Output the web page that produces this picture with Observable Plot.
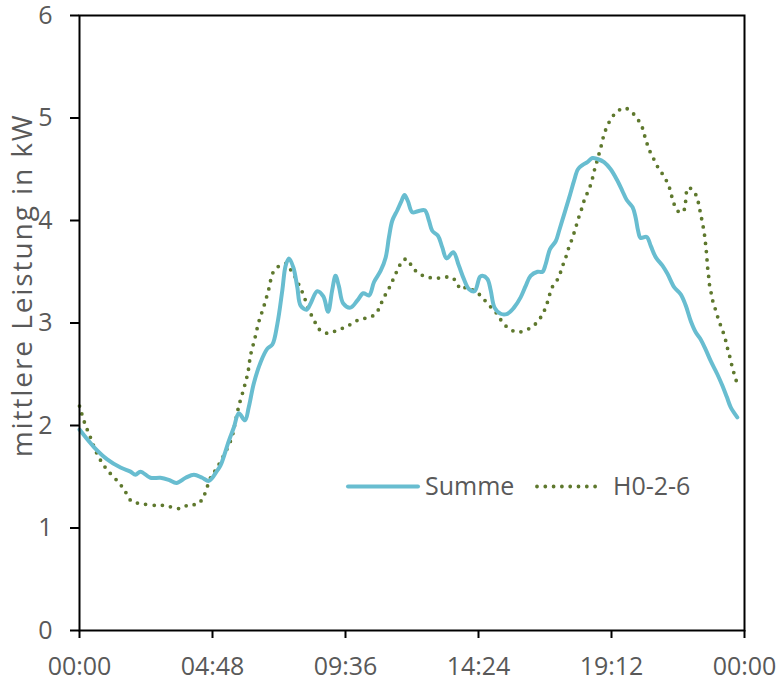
<!DOCTYPE html>
<html>
<head>
<meta charset="utf-8">
<script src="https://cdn.jsdelivr.net/npm/d3@7"></script>
<script src="https://cdn.jsdelivr.net/npm/@observablehq/plot@0.6"></script>
<style>
  body { margin: 0; background: #fff; }
  #wrap { position: relative; width: 780px; height: 681px; font-family: "Open Sans", sans-serif; }
  #legend { position: absolute; left: 0; top: 0; pointer-events: none; }
</style>
</head>
<body>
<div id="wrap"></div>
<script>
// ---- data (hours since midnight, kW) ----
const summeT = [
  0, 0.52, 1.0, 1.48, 1.84, 2.02, 2.2, 2.56, 2.92, 3.22,
  3.5, 3.83, 4.13, 4.43, 4.67, 4.97, 5.09, 5.39, 5.57, 5.75,
  5.97, 6.11, 6.29, 6.54, 6.78, 6.96, 7.14, 7.32, 7.44, 7.56,
  7.72, 7.86, 7.98, 8.20, 8.34, 8.58, 8.80, 8.97, 9.12, 9.24,
  9.36, 9.52, 9.78, 10.03, 10.24, 10.45, 10.63, 10.87, 11.05, 11.17,
  11.29, 11.47, 11.62, 11.73, 11.85, 12.01, 12.21, 12.46, 12.61, 12.73,
  12.94, 13.09, 13.25, 13.49, 13.69, 13.87, 14.06, 14.26, 14.45, 14.54,
  14.72, 14.84, 14.98, 15.20, 15.44, 15.68, 15.92, 16.10, 16.28, 16.53,
  16.71, 16.83, 16.98, 17.19, 17.31, 17.49, 17.67, 17.85, 17.99, 18.15,
  18.33, 18.51, 18.69, 18.93, 19.17, 19.41, 19.59, 19.75, 19.96, 20.07,
  20.16, 20.25, 20.47, 20.62, 20.80, 21.04, 21.22, 21.46, 21.70, 21.88,
  22.06, 22.24, 22.42, 22.60, 22.78, 23.02, 23.20, 23.36, 23.50, 23.74
];
const summeV = [
  1.96, 1.79, 1.67, 1.59, 1.55, 1.52, 1.55, 1.49, 1.49, 1.47,
  1.44, 1.49, 1.52, 1.49, 1.46, 1.56, 1.61, 1.85, 1.98, 2.12,
  2.05, 2.18, 2.41, 2.62, 2.75, 2.79, 2.99, 3.32, 3.56, 3.63,
  3.54, 3.35, 3.17, 3.13, 3.19, 3.31, 3.26, 3.11, 3.32, 3.46,
  3.36, 3.19, 3.15, 3.22, 3.29, 3.27, 3.40, 3.51, 3.64, 3.84,
  4.00, 4.10, 4.19, 4.25, 4.19, 4.08, 4.09, 4.10, 4.00, 3.90,
  3.85, 3.74, 3.63, 3.69, 3.56, 3.43, 3.33, 3.31, 3.45, 3.46,
  3.43, 3.32, 3.15, 3.09, 3.09, 3.15, 3.25, 3.36, 3.46, 3.50,
  3.50, 3.58, 3.72, 3.80, 3.90, 4.06, 4.22, 4.39, 4.50, 4.54,
  4.57, 4.61, 4.60, 4.57, 4.50, 4.39, 4.29, 4.20, 4.13, 4.03,
  3.90, 3.83, 3.84, 3.75, 3.64, 3.56, 3.48, 3.35, 3.28, 3.17,
  3.02, 2.91, 2.84, 2.74, 2.63, 2.50, 2.39, 2.28, 2.18, 2.08
];
const h0T = [
  0, 0.18, 0.40, 0.64, 0.96, 1.36, 1.60, 1.88, 2.18, 2.78,
  3.08, 3.38, 3.68, 3.95, 4.25, 4.45, 4.57, 4.73, 4.97, 5.48,
  5.62, 5.75, 5.93, 6.08, 6.17, 6.32, 6.47, 6.65, 6.83, 6.98,
  7.17, 7.47, 7.64, 7.80, 7.94, 8.06, 8.17, 8.28, 8.40, 8.56,
  8.72, 9.01, 9.30, 9.60, 9.87, 10.14, 10.42, 10.69, 10.84, 10.95,
  11.11, 11.25, 11.37, 11.51, 11.65, 11.85, 12.01, 12.23, 12.49, 12.79,
  13.09, 13.39, 13.61, 13.75, 13.99, 14.26, 14.51, 14.72, 14.94, 15.12,
  15.28, 15.54, 15.80, 16.10, 16.37, 16.58, 16.74, 16.86, 16.95, 17.04,
  17.22, 17.34, 17.44, 17.55, 17.64, 17.75, 17.85, 17.94, 18.03, 18.13,
  18.22, 18.33, 18.45, 18.54, 18.61, 18.69, 18.77, 18.85, 18.93, 19.03,
  19.20, 19.36, 19.65, 19.92, 20.11, 20.28, 20.37, 20.46, 20.56, 20.69,
  20.83, 21.00, 21.16, 21.29, 21.37, 21.46, 21.60, 21.78, 21.86, 21.96,
  22.12, 22.28, 22.36, 22.42, 22.48, 22.54, 22.58, 22.61, 22.64, 22.66,
  22.70, 22.72, 22.78, 22.84, 22.93, 23.02, 23.12, 23.23, 23.32, 23.39,
  23.47, 23.54, 23.62, 23.71
];
const h0V = [
  2.19, 2.03, 1.88, 1.72, 1.58, 1.46, 1.38, 1.26, 1.24, 1.22,
  1.22, 1.20, 1.19, 1.23, 1.23, 1.29, 1.37, 1.49, 1.59, 1.87,
  2.03, 2.19, 2.36, 2.52, 2.68, 2.84, 3.01, 3.16, 3.33, 3.49,
  3.55, 3.58, 3.51, 3.44, 3.36, 3.29, 3.21, 3.13, 3.06, 2.98,
  2.92, 2.90, 2.93, 2.96, 3.00, 3.04, 3.05, 3.09, 3.16, 3.23,
  3.31, 3.38, 3.46, 3.53, 3.61, 3.62, 3.54, 3.49, 3.45, 3.44,
  3.44, 3.45, 3.40, 3.33, 3.35, 3.31, 3.26, 3.19, 3.13, 3.07,
  3.00, 2.94, 2.91, 2.93, 2.97, 3.03, 3.10, 3.18, 3.26, 3.34,
  3.41, 3.48, 3.56, 3.64, 3.72, 3.80, 3.88, 3.96, 4.04, 4.12,
  4.20, 4.27, 4.35, 4.44, 4.52, 4.59, 4.67, 4.75, 4.84, 4.91,
  5.00, 5.05, 5.10, 5.06, 5.00, 4.93, 4.85, 4.77, 4.69, 4.62,
  4.54, 4.47, 4.40, 4.32, 4.24, 4.16, 4.09, 4.08, 4.16, 4.32,
  4.30, 4.23, 4.14, 4.06, 3.98, 3.89, 3.81, 3.73, 3.65, 3.56,
  3.48, 3.40, 3.32, 3.23, 3.15, 3.07, 2.99, 2.91, 2.83, 2.75,
  2.67, 2.59, 2.51, 2.43
];
const xTicks = [0, 4.8, 9.6, 14.4, 19.2, 24];
const xTickLabels = ["00:00", "04:48", "09:36", "14:24", "19:12", "00:00"];
const yTicks = [0, 1, 2, 3, 4, 5, 6];
const seriesNames = ["Summe", "H0-2-6"];
const seriesColors = ["#68bdd0", "#5e782d"];
const yLabel = "mittlere Leistung in kW";

// ---- build tables ----
const summe = summeT.map((t, i) => ({t, v: summeV[i]}));
const h0 = h0T.map((t, i) => ({t, v: h0V[i]}));

const W = 780, H = 681;
const chart = Plot.plot({
  width: W, height: H,
  marginLeft: 79, marginRight: 36, marginTop: 15, marginBottom: 51,
  style: {fontFamily: '"Open Sans", sans-serif', fontSize: "25px", color: "#595959", background: "white", overflow: "visible"},
  x: {domain: [0, 24], label: null},
  y: {domain: [0, 6], label: null},
  marks: [
    Plot.axisX({ticks: xTicks, tickFormat: (d, i) => xTickLabels[i], tickSize: 8, tickPadding: 19, label: null}),
    Plot.axisY({ticks: yTicks, tickFormat: d => String(d), tickSize: 9, tickPadding: 18, label: null}),
    Plot.line(h0, {x: "t", y: "v", stroke: seriesColors[1], strokeWidth: 3.8, strokeDasharray: "0 8.3", strokeLinecap: "round", curve: "catmull-rom"}),
    Plot.line(summe, {x: "t", y: "v", stroke: seriesColors[0], strokeWidth: 4, strokeLinejoin: "round", curve: "catmull-rom"}),
    Plot.frame({stroke: "black", strokeWidth: 2}),
    Plot.text([yLabel], {text: d => d, y: [1.69], frameAnchor: "left", textAnchor: "start", dx: -56, rotate: -90, fill: "#595959", fontSize: 28})
  ]
});

const svg = d3.select(chart);
svg.selectAll('g[aria-label="x-axis tick"], g[aria-label="y-axis tick"]').attr("stroke", "black").attr("stroke-width", 2);
svg.selectAll("text").filter(function() { return this.textContent === yLabel; })
  .attr("textLength", 342).attr("lengthAdjust", "spacing");

const wrap = document.getElementById("wrap");
wrap.appendChild(chart);

// ---- legend overlay ----
const leg = d3.select(wrap).append("svg").attr("id", "legend").attr("width", W).attr("height", H);
const legItems = [
  {x0: 348, x1: 418, tx: 425, dash: null, w: 4},
  {x0: 537, x1: 599, tx: 613, dash: "0 8.3", w: 3.8}
];
legItems.forEach((it, i) => {
  const ln = leg.append("line").attr("x1", it.x0).attr("x2", it.x1).attr("y1", 486.5).attr("y2", 486.5)
    .attr("stroke", seriesColors[i]).attr("stroke-width", it.w).attr("stroke-linecap", "round");
  if (it.dash) ln.attr("stroke-dasharray", it.dash);
  leg.append("text").attr("x", it.tx).attr("y", 495).attr("fill", "#595959")
    .attr("font-family", '"Open Sans", sans-serif').attr("font-size", 25).text(seriesNames[i]);
});
</script>
</body>
</html>
